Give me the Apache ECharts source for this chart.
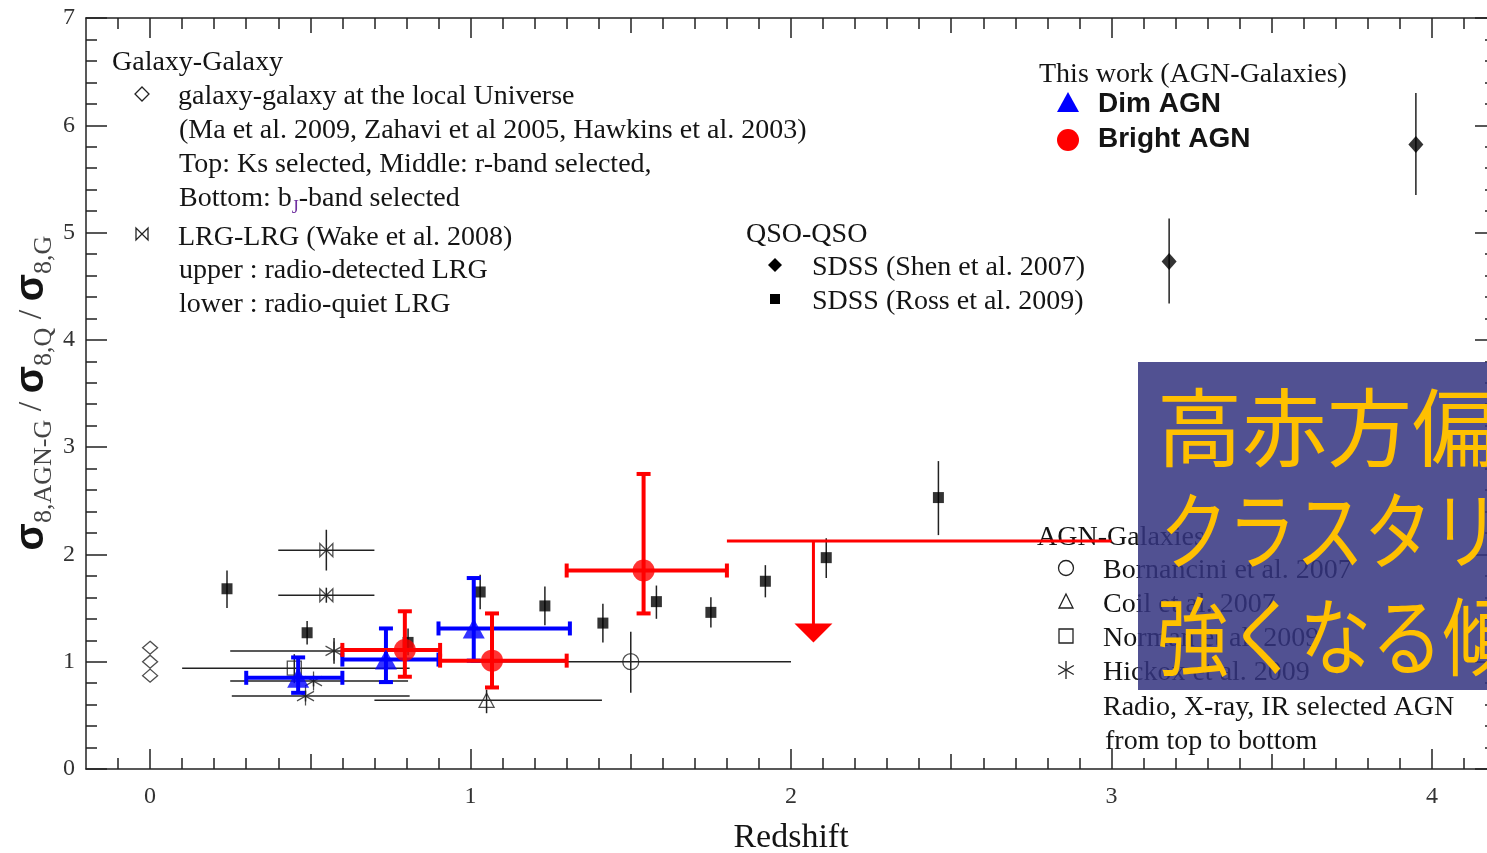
<!DOCTYPE html>
<html>
<head>
<meta charset="utf-8">
<script src="https://cdn.jsdelivr.net/npm/echarts@6/dist/echarts.min.js"></script>
<style>
html, body { margin: 0; padding: 0; overflow: hidden; background: #fff; }
#chart { width: 1500px; height: 853px; }
</style>
</head>
<body>
<div id="chart"></div>
<script>
// tick values
const xMajor = [0, 1, 2, 3, 4];
const xHalf = [0.5, 1.5, 2.5, 3.5];
const xTenth = [-0.1, 0.1, 0.2, 0.3, 0.4, 0.6, 0.7, 0.8, 0.9, 1.1, 1.2, 1.3, 1.4, 1.6, 1.7, 1.8, 1.9,
    2.1, 2.2, 2.3, 2.4, 2.6, 2.7, 2.8, 2.9, 3.1, 3.2, 3.3, 3.4, 3.6, 3.7, 3.8, 3.9, 4.1];

// this work: dim AGN
const dimZ = [0.462, 0.736, 1.01];
const dimV = [0.85, 1.02, 1.31];
const dimZLo = [0.30, 0.60, 0.90];
const dimZHi = [0.60, 0.90, 1.31];
const dimVLo = [0.71, 0.81, 1.01];
const dimVHi = [1.04, 1.31, 1.78];

// this work: bright AGN
const brightZ = [0.795, 1.067, 1.54];
const brightV = [1.11, 1.01, 1.85];
const brightZLo = [0.60, 0.905, 1.30];
const brightZHi = [0.905, 1.30, 1.80];
const brightVLo = [0.86, 0.76, 1.45];
const brightVHi = [1.47, 1.45, 2.75];

// bright AGN upper limit: [z, value, zLo, zHi, arrow tip]
const limitRow = [2.07, 2.125, 1.80, 3.0, 1.18];

// QSO-QSO, Ross et al. 2009
const rossZ = [0.24, 0.49, 0.805, 1.03, 1.232, 1.413, 1.58, 1.75, 1.92, 2.11, 2.46];
const rossV = [1.68, 1.27, 1.18, 1.65, 1.52, 1.36, 1.56, 1.46, 1.75, 1.97, 2.53];
const rossLo = [1.50, 1.16, 1.06, 1.49, 1.34, 1.18, 1.40, 1.32, 1.60, 1.78, 2.18];
const rossHi = [1.85, 1.38, 1.31, 1.81, 1.70, 1.54, 1.71, 1.60, 1.90, 2.15, 2.87];

// QSO-QSO, Shen et al. 2007
const shenZ = [3.18, 3.95];
const shenV = [4.73, 5.82];
const shenLo = [4.34, 5.35];
const shenHi = [5.13, 6.30];

// galaxy-galaxy, local universe
const localZ = [0, 0, 0];
const localV = [1.13, 1.0, 0.87];

// LRG-LRG, Wake et al. 2008
const lrgZ = [0.55, 0.55];
const lrgV = [2.04, 1.62];
const lrgZLo = [0.40, 0.40];
const lrgZHi = [0.70, 0.70];
const lrgVLo = [1.85, 1.55];
const lrgVHi = [2.23, 1.69];

// AGN-galaxies from the literature
const bornZ = [1.50], bornV = [1.0], bornZLo = [1.0], bornZHi = [2.0], bornVLo = [0.71], bornVHi = [1.28];
const coilZ = [1.05], coilV = [0.64], coilZLo = [0.70], coilZHi = [1.41], coilVLo = [0.52], coilVHi = [0.74];
const normZ = [0.45], normV = [0.94], normZLo = [0.10], normZHi = [0.81], normVLo = [0.80], normVHi = [1.07];
const hickZ = [0.574, 0.51, 0.485];
const hickV = [1.10, 0.82, 0.68];
const hickZLo = [0.25, 0.25, 0.255];
const hickZHi = [0.81, 0.805, 0.81];
const hickVLo = [0.98, 0.77, 0.63];
const hickVHi = [1.22, 0.87, 0.73];

const serif = '"Liberation Serif", "DejaVu Serif", serif';
const ink = '#141414';

function rows(z, v, zLo, zHi, vLo, vHi) {
    return z.map((x, i) => [x, v[i],
        zLo ? zLo[i] : x, zHi ? zHi[i] : x,
        vLo ? vLo[i] : v[i], vHi ? vHi[i] : v[i]]);
}
function points(z, v) {
    return z.map((x, i) => [x, v[i]]);
}

function errorBars(color, width, cap) {
    return function (params, api) {
        const c = api.coord([api.value(0), api.value(1)]);
        const xl = api.coord([api.value(2), api.value(1)])[0];
        const xh = api.coord([api.value(3), api.value(1)])[0];
        const yl = api.coord([api.value(0), api.value(4)])[1];
        const yh = api.coord([api.value(0), api.value(5)])[1];
        const style = { stroke: color, lineWidth: width };
        const children = [];
        if (xh - xl > 0.5) {
            children.push({ type: 'line', shape: { x1: xl, y1: c[1], x2: xh, y2: c[1] }, style });
            if (cap) {
                children.push({ type: 'line', shape: { x1: xl, y1: c[1] - cap, x2: xl, y2: c[1] + cap }, style });
                children.push({ type: 'line', shape: { x1: xh, y1: c[1] - cap, x2: xh, y2: c[1] + cap }, style });
            }
        }
        if (yl - yh > 0.5) {
            children.push({ type: 'line', shape: { x1: c[0], y1: yl, x2: c[0], y2: yh }, style });
            if (cap) {
                children.push({ type: 'line', shape: { x1: c[0] - cap, y1: yl, x2: c[0] + cap, y2: yl }, style });
                children.push({ type: 'line', shape: { x1: c[0] - cap, y1: yh, x2: c[0] + cap, y2: yh }, style });
            }
        }
        return { type: 'group', children };
    };
}

function renderLimit(params, api) {
    const c = api.coord([api.value(0), api.value(1)]);
    const xl = api.coord([api.value(2), api.value(1)])[0];
    const xh = api.coord([api.value(3), api.value(1)])[0];
    const tip = api.coord([api.value(0), api.value(4)])[1];
    const style = { stroke: '#ff0000', lineWidth: 3 };
    return {
        type: 'group',
        children: [
            { type: 'line', shape: { x1: xl, y1: c[1], x2: xh, y2: c[1] }, style },
            { type: 'line', shape: { x1: c[0], y1: c[1], x2: c[0], y2: tip - 18 }, style },
            { type: 'polygon', shape: { points: [[c[0] - 19, tip - 19], [c[0] + 19, tip - 19], [c[0], tip]] }, style: { fill: '#ff0000' } }
        ]
    };
}

function barSeries(data, color, width, cap, z) {
    return { type: 'custom', data, renderItem: errorBars(color, width, cap), encode: { x: 0, y: 1 }, clip: false, z, silent: true };
}
function markSeries(data, symbol, size, itemStyle, z) {
    return { type: 'scatter', data, symbol, symbolSize: size, itemStyle, z, silent: true };
}
const open = { color: 'transparent', borderColor: '#222', borderWidth: 1.3 };

function tickAxis(position, values, length, extra) {
    return Object.assign({
        type: 'value', min: -0.2, max: 4.2, position,
        axisLine: { show: false, onZero: false },
        axisTick: { inside: true, length, customValues: values, lineStyle: { color: '#222', width: 1.5 } },
        axisLabel: { show: false },
        splitLine: { show: false }
    }, extra);
}
function yTickAxis(position, interval, length, extra) {
    return Object.assign({
        type: 'value', min: 0, max: 7, interval, position,
        axisLine: { show: false, onZero: false },
        axisTick: { inside: true, length, lineStyle: { color: '#222', width: 1.5 } },
        axisLabel: { show: false },
        splitLine: { show: false }
    }, extra);
}

function label(text, x, y, font) {
    return {
        type: 'text', x, y: y + 3, z: 1,
        style: { text, font: font || '28px ' + serif, fill: ink, verticalAlign: 'middle' }
    };
}
function stroke(type, shape) {
    return { type, z: 1, shape, style: { fill: 'none', stroke: '#222', lineWidth: 1.3 } };
}

const chart = echarts.init(document.getElementById('chart'));

chart.setOption({
    animation: false,
    grid: { left: 86, top: 18, width: 1410, height: 751, outerBoundsMode: 'none', containLabel: false },
    xAxis: [
        tickAxis('bottom', xMajor, 20, {
            axisLine: { show: true, onZero: false, lineStyle: { color: '#222', width: 1.5 } },
            axisLabel: { show: true, customValues: xMajor, margin: 16, color: '#333', fontFamily: serif, fontSize: 24 },
            name: 'Redshift', nameLocation: 'middle', nameGap: 52,
            nameTextStyle: { fontFamily: serif, fontSize: 34, color: ink }
        }),
        tickAxis('bottom', xHalf, 15),
        tickAxis('bottom', xTenth, 11),
        tickAxis('top', xMajor, 20, {
            axisLine: { show: true, onZero: false, lineStyle: { color: '#222', width: 1.5 } }
        }),
        tickAxis('top', xHalf, 15),
        tickAxis('top', xTenth, 11)
    ],
    yAxis: [
        yTickAxis('left', 1, 21, {
            axisLine: { show: true, onZero: false, lineStyle: { color: '#222', width: 1.5 } },
            axisLabel: { show: true, margin: 11, color: '#333', fontFamily: serif, fontSize: 24 }
        }),
        yTickAxis('left', 0.2, 11),
        yTickAxis('right', 1, 21, {
            axisLine: { show: true, onZero: false, lineStyle: { color: '#222', width: 1.5 } }
        }),
        yTickAxis('right', 0.2, 11)
    ],
    series: [
        barSeries(rows(rossZ, rossV, null, null, rossLo, rossHi), '#222', 1.5, 0, 3),
        barSeries(rows(shenZ, shenV, null, null, shenLo, shenHi), '#222', 1.5, 0, 3),
        barSeries(rows(lrgZ, lrgV, lrgZLo, lrgZHi, lrgVLo, lrgVHi), '#222', 1.5, 0, 3),
        barSeries(rows(bornZ, bornV, bornZLo, bornZHi, bornVLo, bornVHi), '#222', 1.5, 0, 3),
        barSeries(rows(coilZ, coilV, coilZLo, coilZHi, coilVLo, coilVHi), '#222', 1.5, 0, 3),
        barSeries(rows(normZ, normV, normZLo, normZHi, normVLo, normVHi), '#222', 1.5, 0, 3),
        barSeries(rows(hickZ, hickV, hickZLo, hickZHi, hickVLo, hickVHi), '#222', 1.5, 0, 3),
        markSeries(points(rossZ, rossV), 'rect', 11, { color: '#000' }, 4),
        markSeries(points(shenZ, shenV), 'diamond', [15, 17], { color: '#000' }, 4),
        markSeries(points(localZ, localV), 'diamond', [15, 13], open, 4),
        markSeries(points(lrgZ, lrgV), 'path://M0,0L-6,-6L-6,6ZM0,0L6,-6L6,6Z', [13, 13], open, 4),
        markSeries(points(bornZ, bornV), 'circle', 16, open, 4),
        markSeries(points(coilZ, coilV), 'triangle', [15, 14], open, 4),
        markSeries(points(normZ, normV), 'rect', 14, open, 4),
        markSeries(points(hickZ, hickV), 'path://M0,-10L0,10M-8.66,-5L8.66,5M-8.66,5L8.66,-5', [17, 19], open, 4),
        { type: 'custom', data: [limitRow], renderItem: renderLimit, encode: { x: 0, y: 1 }, clip: false, z: 5, silent: true },
        barSeries(rows(dimZ, dimV, dimZLo, dimZHi, dimVLo, dimVHi), '#0000ff', 4, 7, 5),
        barSeries(rows(brightZ, brightV, brightZLo, brightZHi, brightVLo, brightVHi), '#ff0000', 4, 7, 6),
        markSeries(points(dimZ, dimV), 'triangle', [22, 20], { color: '#0000ff' }, 7),
        markSeries(points(brightZ, brightV), 'circle', 22, { color: '#ff0000' }, 7)
    ],
    graphic: [
        // y axis title
        {
            type: 'text', x: 32, y: 393, rotation: Math.PI / 2, z: 1,
            style: {
                text: '{s|σ}{sub|8,AGN-G}{t| / }{s|σ}{sub|8,Q}{t| / }{s|σ}{sub|8,G}',
                align: 'center', verticalAlign: 'middle',
                rich: {
                    s: { font: 'bold 40px "Liberation Sans", Arial, sans-serif', fill: ink, lineHeight: 50 },
                    sub: { font: '26px ' + serif, fill: '#444', lineHeight: 50, verticalAlign: 'bottom' },
                    t: { font: '34px ' + serif, fill: '#444', lineHeight: 50 }
                }
            }
        },
        // galaxy-galaxy block
        label('Galaxy-Galaxy', 112, 60),
        stroke('polygon', { points: [[142, 87], [149, 94], [142, 101], [135, 94]] }),
        label('galaxy-galaxy at the local Universe', 178, 94),
        label('(Ma et al. 2009, Zahavi et al 2005, Hawkins et al. 2003)', 179, 128),
        label('Top: Ks selected, Middle: r-band selected,', 179, 162),
        {
            type: 'text', x: 179, y: 199, z: 1,
            style: {
                text: '{n|Bottom: b}{j|J}{n|-band selected}', verticalAlign: 'middle',
                rich: {
                    n: { font: '28px ' + serif, fill: ink, lineHeight: 36 },
                    j: { font: '18px ' + serif, fill: '#7030a0', lineHeight: 36, verticalAlign: 'bottom' }
                }
            }
        },
        stroke('polygon', { points: [[142, 234], [136, 228], [136, 240]] }),
        stroke('polygon', { points: [[142, 234], [148, 228], [148, 240]] }),
        label('LRG-LRG (Wake et al. 2008)', 178, 235),
        label('upper : radio-detected LRG', 179, 268),
        label('lower : radio-quiet LRG', 179, 302),
        // QSO-QSO block
        label('QSO-QSO', 746, 232),
        { type: 'polygon', z: 1, shape: { points: [[775, 258], [782, 265], [775, 272], [768, 265]] }, style: { fill: '#000' } },
        label('SDSS (Shen et al. 2007)', 812, 265),
        { type: 'rect', z: 1, shape: { x: 770, y: 294, width: 10, height: 10 }, style: { fill: '#000' } },
        label('SDSS (Ross et al. 2009)', 812, 299),
        // this work block
        label('This work (AGN-Galaxies)', 1039, 72),
        { type: 'polygon', z: 1, shape: { points: [[1068, 92], [1079, 112], [1057, 112]] }, style: { fill: '#0000ff' } },
        label('Dim AGN', 1098, 101, 'bold 28px "Liberation Sans", Arial, sans-serif'),
        { type: 'circle', z: 1, shape: { cx: 1068, cy: 140, r: 11 }, style: { fill: '#ff0000' } },
        label('Bright AGN', 1098, 136, 'bold 28px "Liberation Sans", Arial, sans-serif'),
        // AGN-galaxies block
        label('AGN-Galaxies', 1037, 535),
        stroke('circle', { cx: 1066, cy: 568, r: 7.5 }),
        label('Bornancini et al. 2007', 1103, 568),
        stroke('polygon', { points: [[1066, 594], [1073, 608], [1059, 608]] }),
        label('Coil et al. 2007', 1103, 602),
        stroke('rect', { x: 1059, y: 629, width: 14, height: 14 }),
        label('Norman et al. 2009', 1103, 636),
        stroke('line', { x1: 1066, y1: 661, x2: 1066, y2: 679 }),
        stroke('line', { x1: 1058.2, y1: 665.5, x2: 1073.8, y2: 674.5 }),
        stroke('line', { x1: 1058.2, y1: 674.5, x2: 1073.8, y2: 665.5 }),
        label('Hickox et al. 2009', 1103, 670),
        label('Radio, X-ray, IR selected AGN', 1103, 705),
        label('from top to bottom', 1105, 739),
        // highlighted note
        { type: 'rect', z: 100, shape: { x: 1138, y: 362, width: 370, height: 328 }, style: { fill: 'rgba(52, 52, 128, 0.86)' } },
        { type: 'text', z: 101, x: 1157, y: 428, style: { text: '高赤方偏移で', font: '85px "Noto Sans CJK JP"', fill: '#ffc000', verticalAlign: 'middle' } },
        { type: 'text', z: 101, x: 1160, y: 531, scaleX: 0.8, style: { text: 'クラスタリングが', font: '85px "Noto Sans CJK JP"', fill: '#ffc000', verticalAlign: 'middle' } },
        { type: 'text', z: 101, x: 1157, y: 637, scaleX: 0.84, style: { text: '強くなる傾向', font: '85px "Noto Sans CJK JP"', fill: '#ffc000', verticalAlign: 'middle' } }
    ]
});
</script>
</body>
</html>
